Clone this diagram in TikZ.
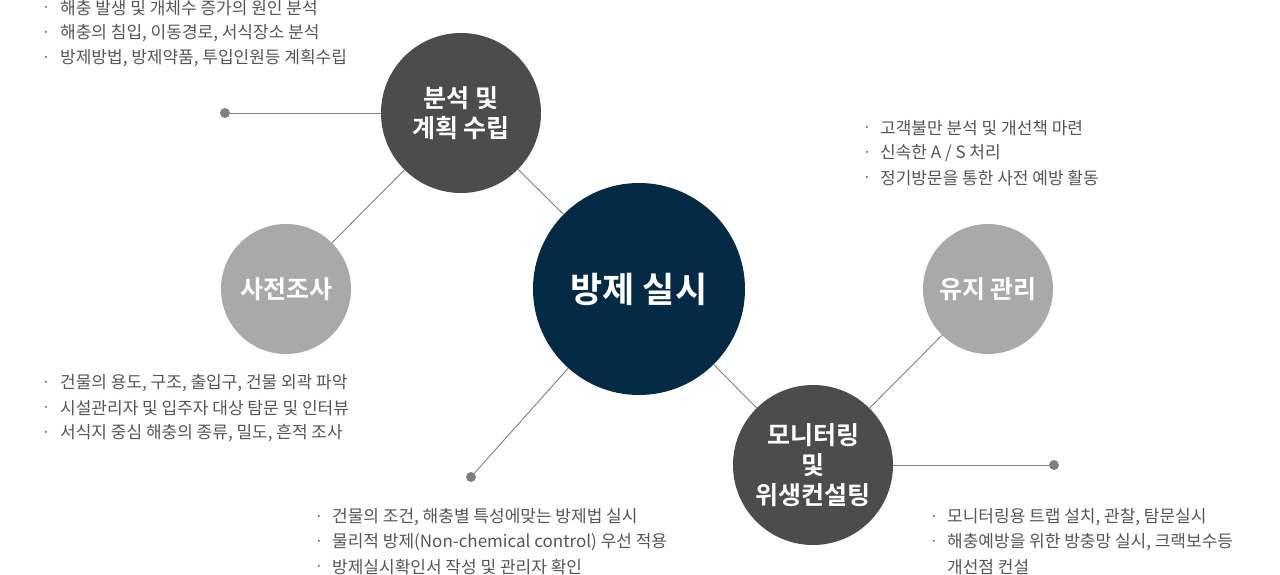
\documentclass[tikz,border=0pt]{standalone}
\usepackage{fontspec}
\setmainfont{Noto Sans CJK KR}[BoldFont={Noto Sans CJK KR Bold}]
\definecolor{navy}{HTML}{052A45}
\definecolor{darkc}{HTML}{4C4C4C}
\definecolor{lightc}{HTML}{A9A9A9}
\definecolor{linec}{HTML}{808080}
\definecolor{txtc}{HTML}{555555}
\tikzset{
  bubble/.style={circle, inner sep=0pt, text=white, align=center},
  mainbubble/.style={bubble, fill=navy, minimum size=212pt, font=\fontsize{35}{40}\selectfont\bfseries},
  darkbubble/.style={bubble, fill=darkc, minimum size=160pt, font=\fontsize{25}{30}\selectfont\bfseries},
  lightbubble/.style={bubble, fill=lightc, minimum size=130pt, font=\fontsize{25}{30}\selectfont\bfseries},
  conn/.style={draw=linec, line width=0.9pt},
  enddot/.style={circle, fill=linec, inner sep=0pt, minimum size=10pt},
  item/.style={anchor=west, inner sep=0pt, text=txtc, font=\fontsize{17}{25}\selectfont},
  bul/.style={anchor=center, inner sep=0pt, text=txtc, font=\fontsize{14}{25}\selectfont}
}
\begin{document}
\begin{tikzpicture}[x=1pt,y=-1pt]
\useasboundingbox (0,0) rectangle (1280,575);
% circles
\node[mainbubble] (main) at (639,289) {\raisebox{-2pt}{방제 실시}};
\node[darkbubble] (plan) at (461,113) {분석 및\\계획 수립};
\node[lightbubble] (survey) at (286,289) {사전조사};
\node[lightbubble] (keep) at (988,289) {유지 관리};
\node[darkbubble] (mon) at (813,465) {모니터링\\및\\위생컨설팅};
% dots
\node[enddot] (d1) at (225,113) {};
\node[enddot] (d2) at (471,477) {};
\node[enddot] (d3) at (1054,465) {};
% connectors
\draw[conn] (plan) -- (d1);
\draw[conn] (plan) -- (main);
\draw[conn] (plan) -- (survey);
\draw[conn] (main) -- (d2);
\draw[conn] (main) -- (mon);
\draw[conn] (keep) -- (mon);
\draw[conn] (mon) -- (d3);
% top-left list
\node[bul] (b11) at (46,9) {·};
\node[item] (t11) at (60,8) {해충 발생 및 개체수 증가의 원인 분석};
\node[bul] (b12) at (46,34) {·};
\node[item] (t12) at (60,33) {해충의 침입, 이동경로, 서식장소 분석};
\node[bul] (b13) at (46,59) {·};
\node[item] (t13) at (60,58) {방제방법, 방제약품, 투입인원등 계획수립};
% top-right list
\node[bul] (b21) at (867,129) {·};
\node[item] (t21) at (880,128) {고객불만 분석 및 개선책 마련};
\node[bul] (b22) at (867,154) {·};
\node[item] (t22) at (880,153) {신속한 A / S 처리};
\node[bul] (b23) at (867,179) {·};
\node[item] (t23) at (880,178) {정기방문을 통한 사전 예방 활동};
% left-middle list
\node[bul] (b31) at (46,384) {·};
\node[item] (t31) at (60,383) {건물의 용도, 구조, 출입구, 건물 외곽 파악};
\node[bul] (b32) at (46,409) {·};
\node[item] (t32) at (60,408) {시설관리자 및 입주자 대상 탐문 및 인터뷰};
\node[bul] (b33) at (46,434) {·};
\node[item] (t33) at (60,433) {서식지 중심 해충의 종류, 밀도, 흔적 조사};
% bottom-middle list
\node[bul] (b41) at (319,518) {·};
\node[item] (t41) at (332,517) {건물의 조건, 해충별 특성에맞는 방제법 실시};
\node[bul] (b42) at (319,543) {·};
\node[item] (t42) at (332,542) {물리적 방제(Non-chemical control) 우선 적용};
\node[bul] (b43) at (319,568) {·};
\node[item] (t43) at (332,567) {방제실시확인서 작성 및 관리자 확인};
% bottom-right list
\node[bul] (b51) at (934,518) {·};
\node[item] (t51) at (947,517) {모니터링용 트랩 설치, 관찰, 탐문실시};
\node[bul] (b52) at (934,543) {·};
\node[item] (t52) at (947,542) {해충예방을 위한 방충망 실시, 크랙보수등};
\node[item] (t53) at (947,567) {개선점 컨설};
\end{tikzpicture}
\end{document}
